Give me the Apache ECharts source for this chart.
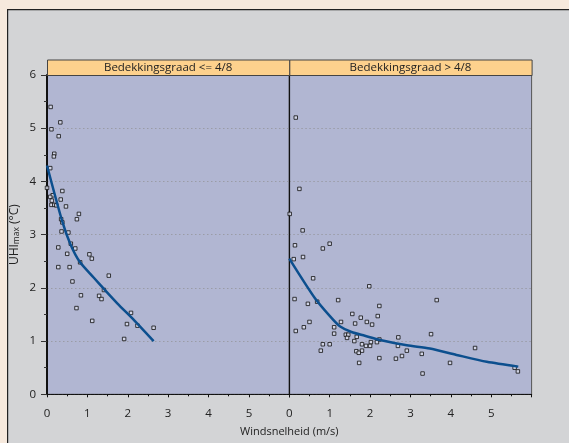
<!DOCTYPE html>
<html>
<head>
<meta charset="utf-8">
<script src="https://cdn.jsdelivr.net/npm/echarts@6/dist/echarts.min.js"></script>
<style>
html,body{margin:0;padding:0;background:#f6e9dd;}
#c{width:569px;height:443px;}
</style>
</head>
<body>
<div id="c"></div>
<script>
// Panel titles
const panelTitles = ['Bedekkingsgraad <= 4/8', 'Bedekkingsgraad > 4/8'];
const xTitle = 'Windsnelheid (m/s)';

// Left panel (cloud cover <= 4/8): scatter points [wind speed, UHImax]
const lowCloudPoints = [
  [0.09,5.40],[0.33,5.11],[0.11,4.98],[0.29,4.85],[0.18,4.52],[0.17,4.47],[0.08,4.25],
  [0.00,3.88],[0.38,3.82],[0.14,3.74],[0.08,3.71],[0.34,3.66],[0.12,3.64],[0.11,3.56],
  [0.18,3.56],[0.23,3.55],[0.47,3.53],[0.79,3.39],[0.74,3.29],[0.35,3.29],[0.38,3.23],
  [0.36,3.06],[0.53,3.04],[0.28,2.76],[0.59,2.83],[0.70,2.74],[0.50,2.64],[1.05,2.63],
  [1.11,2.55],[0.82,2.48],[0.28,2.39],[0.56,2.39],[1.53,2.23],[0.63,2.12],[1.41,1.96],
  [0.84,1.86],[1.29,1.85],[1.35,1.79],[0.73,1.62],[2.08,1.53],[1.12,1.38],[1.98,1.32],
  [2.24,1.29],[2.64,1.25],[1.91,1.04]
];
// Left panel fitted curve
const lowCloudCurve = [
  [0.00,4.30],[0.37,3.27],[0.58,2.82],[0.81,2.49],[1.16,2.19],[1.41,1.98],
  [1.74,1.71],[2.16,1.39],[2.64,1.00]
];

// Right panel (cloud cover > 4/8): scatter points
const highCloudPoints = [
  [0.16,5.20],[0.25,3.86],[0.01,3.39],[0.33,3.08],[0.14,2.80],[1.00,2.83],[0.83,2.74],
  [0.11,2.54],[0.34,2.58],[0.59,2.18],[1.98,2.03],[0.13,1.79],[1.21,1.77],[0.46,1.70],
  [0.69,1.74],[3.65,1.77],[2.23,1.66],[1.56,1.51],[2.19,1.47],[1.77,1.44],[0.50,1.36],
  [1.28,1.36],[1.63,1.33],[1.92,1.36],[2.05,1.31],[1.11,1.26],[0.36,1.26],[0.16,1.19],
  [1.11,1.14],[1.40,1.12],[1.46,1.12],[1.43,1.06],[1.67,1.08],[1.61,1.00],[2.23,1.03],
  [2.17,0.98],[2.70,1.07],[3.51,1.13],[0.83,0.94],[1.00,0.94],[1.80,0.94],[1.90,0.91],
  [2.02,0.98],[2.00,0.91],[2.69,0.91],[2.91,0.82],[0.78,0.82],[1.80,0.82],[1.66,0.81],
  [1.72,0.78],[2.79,0.72],[3.28,0.76],[2.64,0.67],[2.23,0.68],[1.73,0.59],[3.30,0.39],
  [3.98,0.59],[4.60,0.87],[5.58,0.50],[5.66,0.43]
];
// Right panel fitted curve
const highCloudCurve = [
  [0.00,2.55],[0.64,1.80],[1.05,1.43],[1.25,1.28],[1.54,1.17],[1.87,1.10],[2.25,1.02],
  [2.91,0.92],[3.48,0.86],[4.14,0.74],[4.89,0.61],[5.67,0.52]
];

const xTicks = {min:0, max:6, interval:1};
const yTicks = {min:0, max:6, interval:1};

const FONT = '"Open Sans", "Noto Sans", sans-serif';
const GRID_TOP = 75, GRID_H = 319.3, LEFT0 = 47, PW = 242.3;

function xAxisCfg(gi){
  return {
    type:'value', gridIndex:gi, min:xTicks.min, max:xTicks.max, interval:xTicks.interval,
    axisLine:{show:true, onZero:false, lineStyle:{color:'#111', width:1.2, type:[3,1]}},
    axisTick:{show:true, length:3, inside:false, lineStyle:{color:'#111'}},
    minorTick:{show:true, splitNumber:2, length:2, lineStyle:{color:'#111'}},
    axisLabel:{showMaxLabel:false, margin:13, color:'#222', fontSize:11.5, fontFamily:FONT},
    splitLine:{show:false}
  };
}
function yAxisCfg(gi, labels){
  return {
    type:'value', gridIndex:gi, min:yTicks.min, max:yTicks.max, interval:yTicks.interval,
    axisLine:{show:true, onZero:false, lineStyle:{color:'#111', width: labels?2:1.2}},
    axisTick:{show:labels, length:6, lineStyle:{color:'#333'}},
    minorTick:{show:labels, splitNumber:2, length:3, lineStyle:{color:'#333'}},
    axisLabel:{show:labels, margin:11, color:'#222', fontSize:11.5, fontFamily:FONT},
    splitLine:{show:true, lineStyle:{color:'#9a9ca6', type:[1.5,2.5], width:1}},
    name: labels ? '{a|UHI}{s|max}{a| (°C)}' : '',
    nameLocation:'middle', nameGap:25, nameRotate:90,
    nameTextStyle:{
      color:'#222', fontFamily:FONT,
      rich:{
        a:{fontSize:12, fontFamily:FONT, color:'#222', lineHeight:15},
        s:{fontSize:8.5, fontFamily:FONT, color:'#222', lineHeight:15, padding:[5,0,0,0]}
      }
    }
  };
}

const scatterStyle = {
  type:'scatter', symbol:'rect', symbolSize:3.5,
  itemStyle:{color:'#d9dcea', borderColor:'#111', borderWidth:1},
  z:3
};
const lineStyle = {
  type:'line', showSymbol:false, smooth:0.25,
  lineStyle:{color:'#0c4f8e', width:2.5}, z:4
};

const chart = echarts.init(document.getElementById('c'), null, {renderer:'canvas'});
chart.setOption({
  backgroundColor:'#f6e9dd',
  animation:false,
  grid:[
    {left:LEFT0, top:GRID_TOP, width:PW, height:GRID_H, show:true, backgroundColor:'#b1b6d2', borderColor:'#555', borderWidth:1},
    {left:LEFT0+PW, top:GRID_TOP, width:PW, height:GRID_H, show:true, backgroundColor:'#b1b6d2', borderColor:'#555', borderWidth:1}
  ],
  xAxis:[xAxisCfg(0), xAxisCfg(1)],
  yAxis:[yAxisCfg(0,true), yAxisCfg(1,false)],
  graphic:[
    {type:'rect', left:7, top:9, z:-10, silent:true,
      shape:{width:600, height:450}, style:{fill:'#d3d4d6', stroke:'#222', lineWidth:1.2}},
    {type:'rect', left:LEFT0, top:GRID_TOP-15.5, z:5,
      shape:{width:PW, height:15.5}, style:{fill:'#fdd18d', stroke:'#444', lineWidth:1}},
    {type:'rect', left:LEFT0+PW, top:GRID_TOP-15.5, z:5,
      shape:{width:PW, height:15.5}, style:{fill:'#fdd18d', stroke:'#444', lineWidth:1}},
    {type:'text', x:LEFT0+PW/2, y:GRID_TOP-7.5, z:6,
      style:{text:panelTitles[0], fill:'#222', font:'11.5px '+FONT, textAlign:'center', textVerticalAlign:'middle'}},
    {type:'text', x:LEFT0+PW*1.5, y:GRID_TOP-7.5, z:6,
      style:{text:panelTitles[1], fill:'#222', font:'11.5px '+FONT, textAlign:'center', textVerticalAlign:'middle'}},
    {type:'text', x:LEFT0+PW, y:432, z:6,
      style:{text:xTitle, fill:'#222', font:'11px '+FONT, textAlign:'center', textVerticalAlign:'middle'}}
  ],
  series:[
    Object.assign({}, scatterStyle, {xAxisIndex:0, yAxisIndex:0, data:lowCloudPoints}),
    Object.assign({}, lineStyle, {xAxisIndex:0, yAxisIndex:0, data:lowCloudCurve}),
    Object.assign({}, scatterStyle, {xAxisIndex:1, yAxisIndex:1, data:highCloudPoints}),
    Object.assign({}, lineStyle, {xAxisIndex:1, yAxisIndex:1, data:highCloudCurve})
  ]
});
</script>
</body>
</html>
